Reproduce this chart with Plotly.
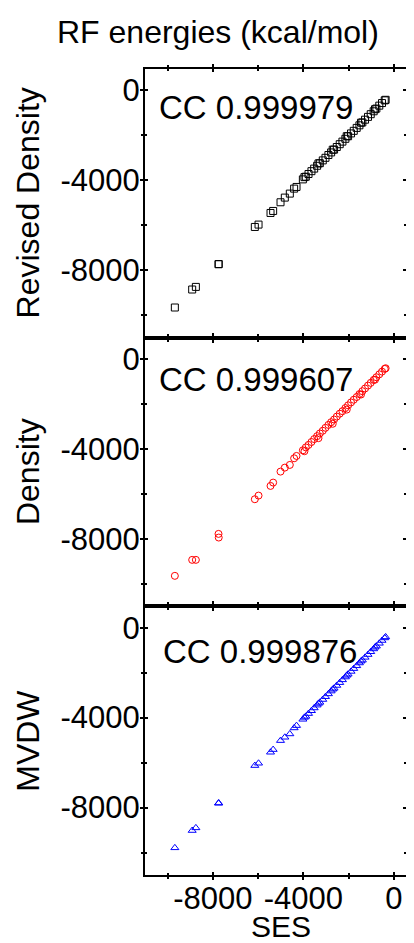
import plotly.graph_objects as go
from plotly.subplots import make_subplots

# ---------------- data ----------------
ses = [-9680, -8914, -8751, -7749, -7740, -6144, -5980, -5450, -5334, -5008,
       -4818, -4597, -4406, -4300,
       -4020, -3890, -3770, -3640, -3520, -3390, -3270, -3140, -3020, -2890,
       -2770, -2640, -2520, -2390, -2270, -2140, -2020, -1890, -1770, -1640,
       -1520, -1390, -1270, -1140, -1020, -890, -770, -640, -520, -400,
       -3950, -3330, -2700, -2080, -1450, -830, -360]

revised_density = [-9658, -8858, -8742, -7733, -7725, -6076, -5970, -5453, -5364, -4978,
                   -4770, -4592, -4370, -4296,
                   -3960, -3840, -3720, -3595, -3480, -3355, -3240, -3115, -3000, -2875,
                   -2760, -2635, -2520, -2395, -2280, -2155, -2040, -1915, -1800, -1670,
                   -1555, -1425, -1305, -1180, -1060, -930, -810, -680, -565, -445,
                   -3860, -3250, -2640, -2040, -1440, -840, -420]

density = [-9644, -8933, -8933, -7778, -7941, -6237, -6074, -5644, -5496, -5007,
           -4830, -4711, -4415, -4311,
           -4060, -3930, -3820, -3690, -3560, -3430, -3310, -3190, -3060, -2930,
           -2810, -2690, -2560, -2430, -2320, -2180, -2060, -1930, -1810, -1690,
           -1560, -1430, -1310, -1180, -1060, -930, -810, -680, -560, -440,
           -4100, -3520, -2880, -2250, -1580, -920, -410]

mvdw = [-9792, -9022, -8904, -7807, -7800, -6133, -6030, -5541, -5422, -5022,
        -4874, -4726, -4459, -4356,
        -4075, -3945, -3820, -3695, -3570, -3445, -3320, -3195, -3070, -2945,
        -2820, -2695, -2570, -2445, -2320, -2195, -2070, -1945, -1820, -1695,
        -1570, -1445, -1320, -1195, -1070, -945, -820, -695, -570, -455,
        -3990, -3370, -2740, -2120, -1490, -870, -410]

panel_names = ["Revised Density", "Density", "MVDW"]
cc_labels = ["CC 0.999979", "CC 0.999607", "CC 0.999876"]
major_ticks = [-8000, -4000, 0]
major_text = ["-8000", "-4000", "0"]
minor_ticks = [-10000, -6000, -2000]

FONT = "Liberation Sans, Arial, sans-serif"
X_RANGE = [-11000, 540]
Y_RANGE = [-11000, 950]

fig = make_subplots(rows=3, cols=1, shared_xaxes=True, vertical_spacing=0)

series = [
    (revised_density, "square-open", "#000000"),
    (density, "circle-open", "#ff0000"),
    (mvdw, "triangle-up-open", "#0000ff"),
]
for i, (vals, sym, col) in enumerate(series):
    fig.add_trace(go.Scatter(
        x=ses, y=vals, mode="markers",
        marker=dict(symbol=sym, size=7, color=col, line=dict(width=1, color=col)),
        showlegend=False), row=i + 1, col=1)

tick_common = dict(
    showline=True, linewidth=2, linecolor="black",
    ticks="outside", ticklen=3, tickwidth=2, tickcolor="black",
    showgrid=False, zeroline=False,
    tickfont=dict(family=FONT, size=31, color="black"),
    tickmode="array", tickvals=major_ticks, ticktext=major_text,
    minor=dict(tickmode="array", tickvals=minor_ticks, ticks="outside",
               ticklen=2, tickwidth=2, tickcolor="black"),
)

for r in range(1, 4):
    fig.update_xaxes(range=X_RANGE, showticklabels=(r == 3), mirror="ticks",
                     ticklabelstandoff=-8, row=r, col=1, **tick_common)
    fig.update_yaxes(range=Y_RANGE, mirror=False, ticklabelstandoff=-6,
                     row=r, col=1, **tick_common)

# overlay axes giving the inner half of the crossing ticks (and the right-side ticks)
overlay_common = dict(
    showline=False, mirror="ticks", ticks="inside", ticklen=3, tickwidth=2,
    tickcolor="black", showgrid=False, zeroline=False, showticklabels=False,
    tickmode="array", tickvals=major_ticks,
    minor=dict(tickmode="array", tickvals=minor_ticks, ticks="inside",
               ticklen=2, tickwidth=2, tickcolor="black"),
)
extra_layout = {}
for r in range(1, 4):
    n = r + 3
    base_x = "x" if r == 1 else f"x{r}"
    base_y = "y" if r == 1 else f"y{r}"
    fig.add_trace(go.Scatter(x=[None], y=[None], xaxis=f"x{n}", yaxis=f"y{n}",
                             mode="markers", showlegend=False, hoverinfo="skip"))
    extra_layout[f"xaxis{n}"] = dict(overlaying=base_x, anchor=f"y{n}",
                                     range=X_RANGE, **overlay_common)
    extra_layout[f"yaxis{n}"] = dict(overlaying=base_y, anchor=f"x{n}",
                                     range=Y_RANGE, **overlay_common)
fig.update_layout(**extra_layout)

annotations = []
annotations.append(dict(text="RF energies (kcal/mol)", xref="paper", yref="paper",
                        x=0.279, y=1.046, xanchor="center", yanchor="middle",
                        showarrow=False, font=dict(family=FONT, size=32, color="black")))
annotations.append(dict(text="SES", xref="paper", yref="paper",
                        x=0.521, y=-0.064, xanchor="center", yanchor="middle",
                        showarrow=False, font=dict(family=FONT, size=30, color="black")))
cc_y = [0.857, 0.844, 0.833]
cc_x = [0.046, 0.046, 0.061]
for i in range(3):
    yref = "y domain" if i == 0 else f"y{i + 1} domain"
    xref = "x domain" if i == 0 else f"x{i + 1} domain"
    annotations.append(dict(text=panel_names[i], xref="paper", yref=yref,
                            x=-0.448, y=0.5, xanchor="center", yanchor="middle",
                            textangle=-90, showarrow=False,
                            font=dict(family=FONT, size=32, color="black")))
    annotations.append(dict(text=cc_labels[i], xref=xref, yref=yref,
                            x=cc_x[i], y=cc_y[i], xanchor="left", yanchor="middle",
                            showarrow=False,
                            font=dict(family=FONT, size=33, color="black")))

# the page body adds an 8px offset and limits the width to 398px
fig.update_layout(
    width=398, height=935,
    margin=dict(l=137, r=0, t=61, b=68),
    paper_bgcolor="white", plot_bgcolor="white",
    annotations=annotations,
    font=dict(family=FONT, color="black"),
)

fig.write_html("out.html")
